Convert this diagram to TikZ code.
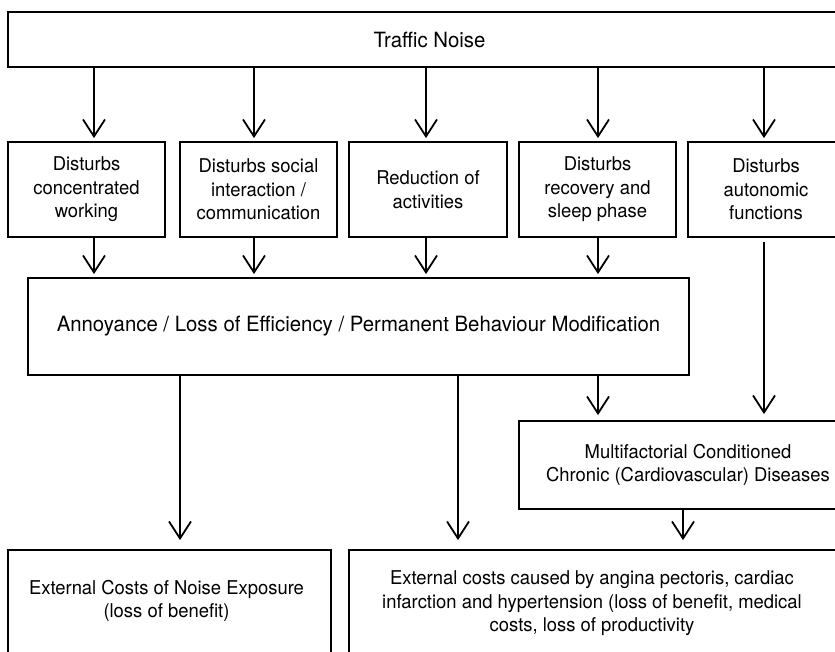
\documentclass[tikz,border=0pt]{standalone}
\usepackage{fontspec}
\setmainfont{TeX Gyre Heros}[FakeStretch=0.97]
\usetikzlibrary{arrows.meta}
\newcommand\dfont{\fontsize{19bp}{23.5bp}\selectfont}
\newcommand\bigfnt{\fontsize{21bp}{24bp}\selectfont}
\begin{document}
\begin{tikzpicture}[x=1bp,y=-1bp,
  box/.style={draw, line width=1.8bp, inner sep=0pt, align=center, font=\dfont},
  bigbox/.style={box, font=\bigfnt},
  txt/.style={inner sep=0pt, align=center, font=\dfont},
  arr/.style={line width=1.8bp, -{Straight Barb[length=17bp,width=22bp,line width=1.8bp]}, shorten >=3bp}]
\useasboundingbox (0,0) rectangle (835,652);
\clip (0,0) rectangle (835,652);
% boxes
\node[bigbox, minimum width=843bp, minimum height=55bp] (top) at (429.5,39.5) {Traffic Noise};
\node[box, minimum width=157bp, minimum height=95bp] (b1) at (86.5,189.5) {Disturbs\\concentrated\\working};
\node[box, minimum width=157bp, minimum height=95bp] (b2) at (258.5,189.5) {Disturbs social\\interaction /\\communication};
\node[box, minimum width=158bp, minimum height=95bp] (b3) at (428,189.5) {Reduction of\\activities};
\node[box, minimum width=157bp, minimum height=95bp] (b4) at (597.5,189.5) {Disturbs\\recovery and\\sleep phase};
\node[box, minimum width=156bp, minimum height=95bp] (b5) at (766,189.5) {Disturbs\\autonomic\\functions};
\node[bigbox, minimum width=661bp, minimum height=97bp] (ann) at (358.5,326.5) {Annoyance / Loss of Efficiency / Permanent Behaviour Modification};
\node[box, minimum width=338bp, minimum height=88bp] (mult) at (688,465) {Multifactorial Conditioned\\Chronic (Cardiovascular) Diseases};
\node[box, minimum width=323bp, minimum height=120bp] (bl) at (169.5,610) {};
\node[txt] (blt) at (166.5,601) {External Costs of Noise Exposure\\(loss of benefit)};
\node[box, minimum width=511bp, minimum height=120bp] (br) at (604.5,610) {};
\node[txt] (brt) at (592,603.5) {External costs caused by angina pectoris, cardiac\\infarction and hypertension (loss of benefit, medical\\costs, loss of productivity};
% arrow columns
\coordinate (a1) at (94,0);
\coordinate (a2) at (254,0);
\coordinate (a3) at (426,0);
\coordinate (a4) at (598,0);
\coordinate (a5) at (764,0);
\coordinate (c1) at (180,0);
\coordinate (c2) at (458,0);
\coordinate (c3) at (683,0);
% connectors
\draw[arr] (top.south -| a1) -- (b1.north -| a1);
\draw[arr] (top.south -| a2) -- (b2.north -| a2);
\draw[arr] (top.south -| a3) -- (b3.north -| a3);
\draw[arr] (top.south -| a4) -- (b4.north -| a4);
\draw[arr] (top.south -| a5) -- (b5.north -| a5);
\draw[arr] (b1.south -| a1) -- (ann.north -| a1);
\draw[arr] (b2.south -| a2) -- (ann.north -| a2);
\draw[arr] (b3.south -| a3) -- (ann.north -| a3);
\draw[arr] (b4.south -| a4) -- (ann.north -| a4);
\draw[arr, shorten <=4bp, shorten >=6bp] (b5.south -| a5) -- (mult.north -| a5);
\draw[arr, shorten >=5bp] (ann.south -| a4) -- (mult.north -| a4);
\draw[arr, shorten >=9bp] (ann.south -| c1) -- (bl.north -| c1);
\draw[arr, shorten >=9bp] (ann.south -| c2) -- (br.north -| c2);
\draw[arr, shorten >=9bp] (mult.south -| c3) -- (br.north -| c3);
\end{tikzpicture}
\end{document}
